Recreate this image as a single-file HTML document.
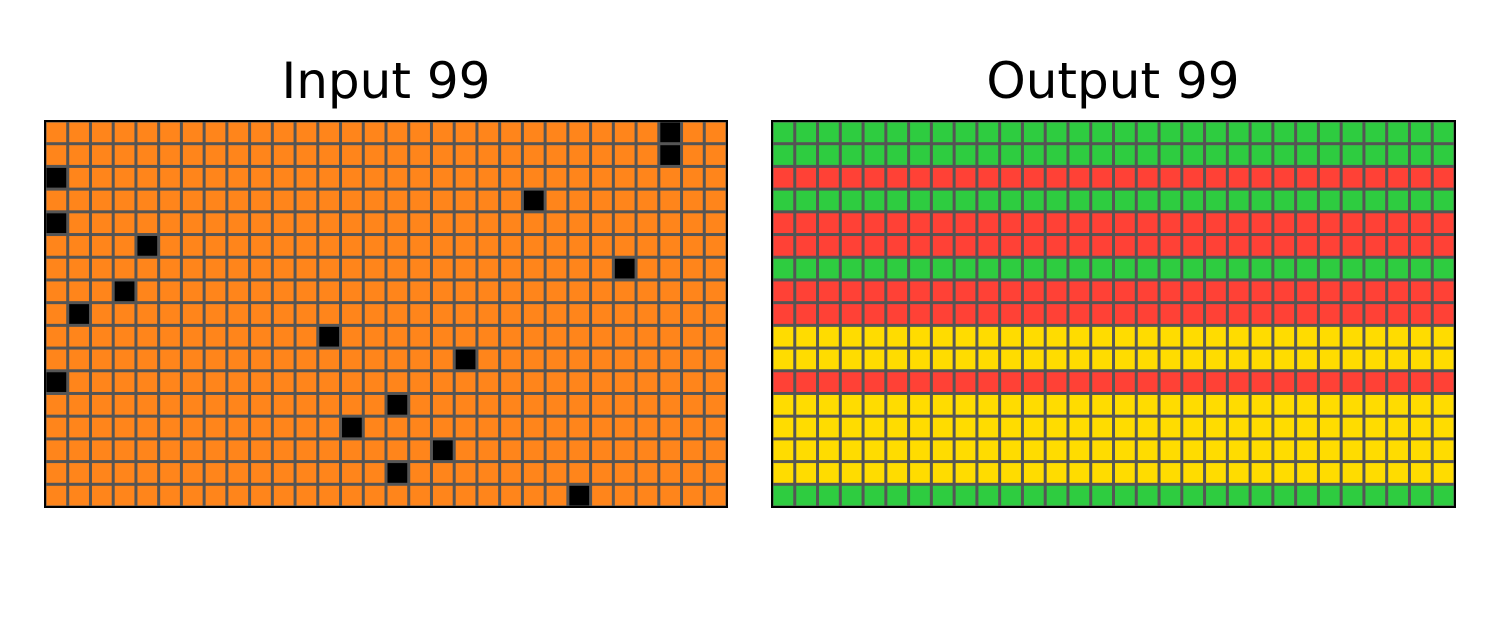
<!DOCTYPE html>
<html><head><meta charset="utf-8"><style>
html,body{margin:0;padding:0;background:#fff;width:1500px;height:629px;overflow:hidden}
svg text{font-family:"DejaVu Sans","Liberation Sans",sans-serif}
</style></head><body>
<svg id="chart" width="1500" height="629" xmlns="http://www.w3.org/2000/svg">
<text x="386" y="98" font-size="50" text-anchor="middle">Input 99</text>
<text x="1113" y="98" font-size="50" text-anchor="middle">Output 99</text>
<g id="gin"></g>
<g id="gout"></g>
</svg>
<script>
const nCols = 30;
const nRows = 17;
const blackCells = [[0,27],[1,27],[2,0],[3,21],[4,0],[5,4],[6,25],[7,3],[8,1],[9,12],[10,18],[11,0],[12,15],[13,13],[14,17],[15,15],[16,23]];
const outputRowColors = ["G","G","R","G","R","R","G","R","R","Y","Y","R","Y","Y","Y","Y","G"];
const palette = {O:"#FF851B",K:"#000000",G:"#2ECC40",R:"#FF4136",Y:"#FFDC00"};
const NS = "http://www.w3.org/2000/svg";
function drawGrid(g, x0, y0, x1, y1, colorFn, prefix){
  const bg = document.createElementNS(NS,"rect");
  bg.setAttribute("x",x0);bg.setAttribute("y",y0);bg.setAttribute("width",x1-x0);bg.setAttribute("height",y1-y0);
  bg.setAttribute("fill","#555555");
  
  
  g.appendChild(bg);
  const cw=(x1-x0)/nCols, ch=(y1-y0)/nRows;
  for(let r=0;r<nRows;r++)for(let c=0;c<nCols;c++){
    const el=document.createElementNS(NS,"rect");
    el.setAttribute("x",x0+c*cw+1.5);el.setAttribute("y",y0+r*ch+1.5);
    el.setAttribute("width",cw-3);el.setAttribute("height",ch-3);
    el.setAttribute("fill",colorFn(r,c));
    
    
    g.appendChild(el);
  }
  const b=document.createElementNS(NS,"rect");
  b.setAttribute("x",x0);b.setAttribute("y",y0);b.setAttribute("width",x1-x0);b.setAttribute("height",y1-y0);
  b.setAttribute("fill","none");b.setAttribute("stroke","#000");b.setAttribute("stroke-width","2");
  
  
  g.appendChild(b);
}
const blackSet = new Set(blackCells.map(p=>p[0]+","+p[1]));
drawGrid(document.getElementById("gin"),45,121,727,507,(r,c)=>blackSet.has(r+","+c)?palette.K:palette.O,"input");
drawGrid(document.getElementById("gout"),772,121,1455,507,(r,c)=>palette[outputRowColors[r]],"output");
</script>
</body></html>
